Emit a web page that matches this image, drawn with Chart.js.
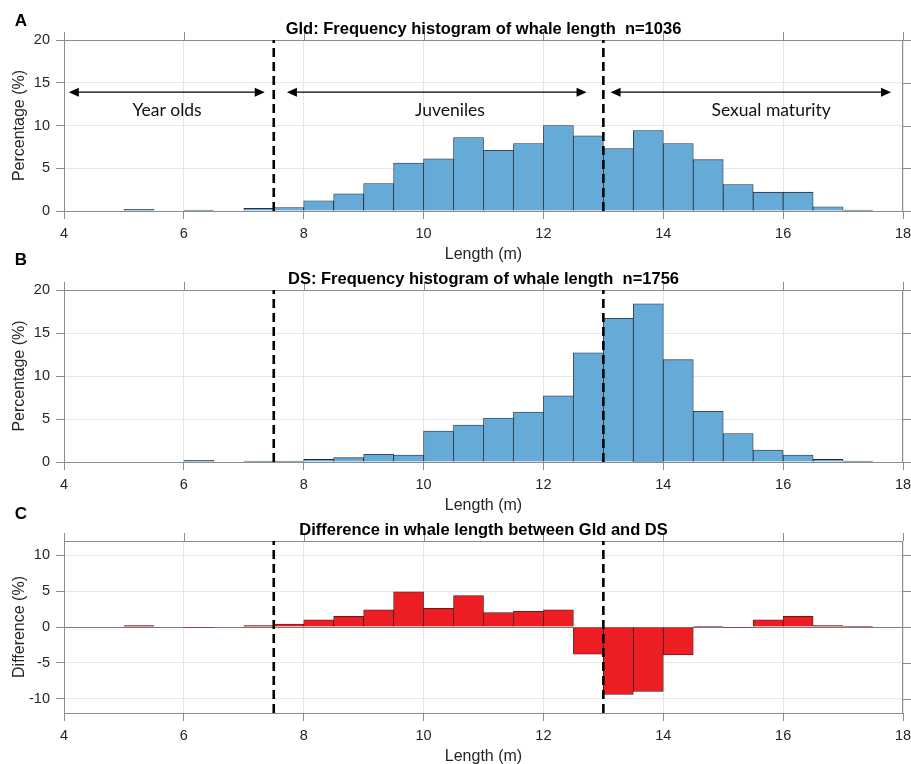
<!DOCTYPE html>
<html><head><meta charset="utf-8">
<script src="https://cdn.jsdelivr.net/npm/chart.js@4.4.1/dist/chart.umd.min.js"></script>
<style>
html,body{margin:0;padding:0;background:#fff;width:911px;height:764px;overflow:hidden;position:relative}
canvas{position:absolute;left:0}
</style></head><body>
<canvas id="cA" width="911" height="264" style="top:0px"></canvas>
<canvas id="cB" width="911" height="265" style="top:250px"></canvas>
<canvas id="cC" width="911" height="265" style="top:501px"></canvas>
<script>
// ---- data ----
const binCenters = [4.25,4.75,5.25,5.75,6.25,6.75,7.25,7.75,8.25,8.75,9.25,9.75,10.25,10.75,11.25,11.75,12.25,12.75,13.25,13.75,14.25,14.75,15.25,15.75,16.25,16.75,17.25,17.75];
const gldPct  = [null,null,0.2,null,0.1,null,0.3,0.4,1.2,2.0,3.2,5.6,6.1,8.6,7.1,7.9,10.0,8.8,7.3,9.4,7.9,6.0,3.1,2.2,2.2,0.5,0.1,null];
const dsPct   = [null,null,null,null,0.2,null,0.1,0.1,0.3,0.5,0.9,0.8,3.6,4.3,5.1,5.8,7.7,12.7,16.7,18.4,11.9,5.9,3.3,1.4,0.8,0.3,0.1,null];
const diffPct = [null,null,0.2,null,-0.1,null,0.2,0.4,1.0,1.5,2.4,4.9,2.6,4.4,2.0,2.2,2.4,-3.8,-9.4,-9.0,-3.9,0.1,-0.1,1.0,1.5,0.2,0.1,null];
const xTicks = [4,6,8,10,12,14,16,18];
const pctTicks = [0,5,10,15,20];
const diffTicks = [-10,-5,0,5,10];
const stageBounds = [7.5, 13];
const stageArrowFrom = [4.08, 7.72, 13.12];
const stageArrowTo   = [7.35, 12.72, 17.8];
const stageLabels = ['Year olds','Juveniles','Sexual maturity'];
const stageLabelX = [5.72, 10.44, 15.8];
const stageArrowY = 13.9;
const stageLabelY = 11.8;
const panelTitles = ['Gld: Frequency histogram of whale length  n=1036','DS: Frequency histogram of whale length  n=1756','Difference in whale length between Gld and DS'];
const panelLetters = ['A','B','C'];

const AXIS = '#8c8c8c', GRID = '#e6e6e6', TXT = '#262626';
const FONT = '"Liberation Sans", Arial, sans-serif';

function decorPlugin(cfg){
  return {
    id:'decor'+cfg.letter,
    beforeDatasetsDraw(chart){
      const {ctx, chartArea:a, scales:{x,y}} = chart;
      ctx.save();
      ctx.strokeStyle = AXIS; ctx.lineWidth = 1;
      ctx.strokeRect(Math.round(a.left)+0.5, Math.round(a.top)+0.5, Math.round(a.right-a.left)-1, Math.round(a.bottom-a.top));
      ctx.beginPath();
      xTicks.forEach(v=>{const px=Math.round(x.getPixelForValue(v))+0.5; ctx.moveTo(px,a.top); ctx.lineTo(px,a.top-8);});
      cfg.yTicks.forEach(v=>{const py=Math.round(y.getPixelForValue(v))+0.5; ctx.moveTo(a.right,py); ctx.lineTo(a.right+8,py);});
      ctx.stroke();
      ctx.restore();
    },
    afterDraw(chart){
      const {ctx, chartArea:a, scales:{x,y}} = chart;
      ctx.save();
      ctx.fillStyle = '#000';
      ctx.textAlign='center'; ctx.textBaseline='middle';
      ctx.font = 'bold 16.5px '+FONT;
      ctx.fillText(cfg.title, (a.left+a.right)/2, a.top-11);
      ctx.font = 'bold 17px '+FONT;
      ctx.fillText(cfg.letter, 21, cfg.letterY);
      if (cfg.arrows){
        ctx.strokeStyle='#000'; ctx.lineWidth=1.2;
        const py = y.getPixelForValue(stageArrowY);
        for (let i=0;i<stageArrowFrom.length;i++){
          const x1=x.getPixelForValue(stageArrowFrom[i]), x2=x.getPixelForValue(stageArrowTo[i]);
          ctx.beginPath(); ctx.moveTo(x1+6,py); ctx.lineTo(x2-6,py); ctx.stroke();
          ctx.beginPath(); ctx.moveTo(x1,py); ctx.lineTo(x1+10,py-4.5); ctx.lineTo(x1+10,py+4.5); ctx.closePath(); ctx.fill();
          ctx.beginPath(); ctx.moveTo(x2,py); ctx.lineTo(x2-10,py-4.5); ctx.lineTo(x2-10,py+4.5); ctx.closePath(); ctx.fill();
        }
        ctx.font = '17.5px Lato, "Open Sans", sans-serif';
        ctx.fillStyle = '#111';
        const ly = y.getPixelForValue(stageLabelY);
        stageLabels.forEach((t,i)=>ctx.fillText(t, x.getPixelForValue(stageLabelX[i]), ly));
      }
      ctx.restore();
    }
  };
}

function makeChart(id, cfg){
  const barData = binCenters.map((c,i)=>({x:c, y:cfg.values[i]}));
  const datasets = [{
    type:'bar', data:barData, backgroundColor:cfg.fill, borderColor:cfg.edge, borderWidth:0.8,
    barPercentage:1, categoryPercentage:1, borderSkipped:'start', order:2
  }];
  stageBounds.forEach(b=>datasets.push({
    type:'line', data:[{x:b,y:cfg.yMin},{x:b,y:cfg.yMax}], borderColor:'#000', borderWidth:2.6,
    borderDash:[9,5], pointRadius:0, fill:false, order:1
  }));
  return new Chart(document.getElementById(id), {
    data:{datasets},
    options:{
      responsive:false, animation:false, devicePixelRatio:1,
      layout:{padding:{left:0,right:8,top:40,bottom:0}},
      plugins:{legend:{display:false}, tooltip:{enabled:false}, title:{display:false}},
      scales:{
        x:{type:'linear', min:4, max:18, offset:false,
          afterBuildTicks:s=>{s.ticks = xTicks.map(v=>({value:v}));},
          afterFit:s=>{s.height=53; s.paddingLeft=0; s.paddingRight=0;},
          grid:{color:GRID, tickColor:AXIS, tickLength:8, drawTicks:true, offset:false},
          border:{display:false},
          ticks:{font:{family:FONT,size:14.5}, color:TXT, padding:6, maxRotation:0},
          title:{display:true, text:'Length (m)', font:{family:FONT,size:16}, color:TXT, padding:{top:0,bottom:0}}
        },
        y:{type:'linear', min:cfg.yMin, max:cfg.yMax,
          afterBuildTicks:s=>{s.ticks = cfg.yTicks.map(v=>({value:v}));},
          afterFit:s=>{s.width=64; s.paddingTop=0; s.paddingBottom=0;},
          grid:{color:c=>(cfg.zeroLine && c.tick && c.tick.value===0)?'#7d7d7d':GRID, tickColor:AXIS, tickLength:8},
          border:{display:false},
          ticks:{font:{family:FONT,size:14.5}, color:TXT, padding:6},
          title:{display:true, text:cfg.yTitle, font:{family:FONT,size:16}, color:TXT, padding:{top:10,bottom:0}}
        }
      }
    },
    plugins:[decorPlugin(cfg)]
  });
}

makeChart('cA',{values:gldPct, fill:'rgb(102,170,215)', edge:'rgb(35,45,60)', yMin:0, yMax:20, yTicks:pctTicks,
  yTitle:'Percentage (%)', title:panelTitles[0], letter:panelLetters[0], letterY:21, arrows:true});
makeChart('cB',{values:dsPct, fill:'rgb(102,170,215)', edge:'rgb(35,45,60)', yMin:0, yMax:20, yTicks:pctTicks,
  yTitle:'Percentage (%)', title:panelTitles[1], letter:panelLetters[1], letterY:10});
makeChart('cC',{values:diffPct, fill:'rgb(236,30,36)', edge:'rgb(70,20,20)', yMin:-12, yMax:12, yTicks:diffTicks,
  yTitle:'Difference (%)', title:panelTitles[2], letter:panelLetters[2], letterY:13, zeroLine:true});
</script>
</body></html>
